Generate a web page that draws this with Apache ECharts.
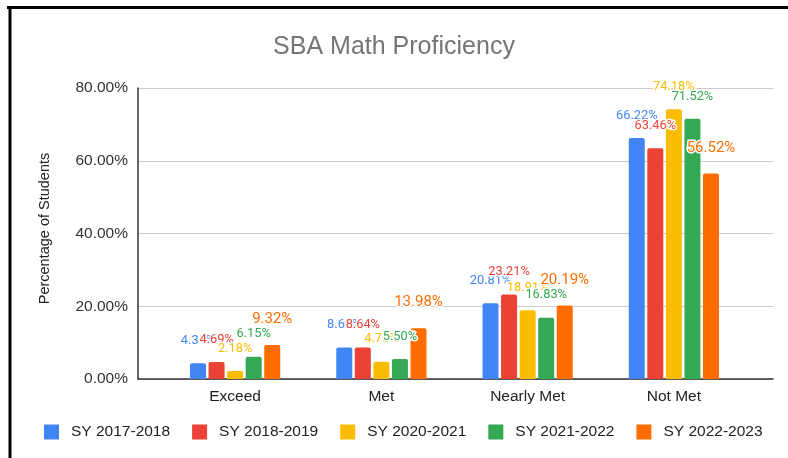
<!DOCTYPE html>
<html lang="en">
<head>
    <meta charset="UTF-8">
    <title>SBA Math Proficiency</title>
    <script src="https://cdn.jsdelivr.net/npm/echarts@6/dist/echarts.min.js"></script>
    <style>
        html, body { margin: 0; padding: 0; background: #fff; }
        #main { width: 788px; height: 458px; }
    </style>
</head>
<body>
    <div id="main"></div>
    <script type="text/javascript">
        // categories and series values (percent)
        var categories = ['Exceed', 'Met', 'Nearly Met', 'Not Met'];
        var years = ['SY 2017-2018', 'SY 2018-2019', 'SY 2020-2021', 'SY 2021-2022', 'SY 2022-2023'];
        var sy1718 = [4.34, 8.68, 20.81, 66.22];
        var sy1819 = [4.69, 8.64, 23.21, 63.46];
        var sy2021 = [2.18, 4.75, 18.91, 74.18];
        var sy2122 = [6.15, 5.50, 16.83, 71.52];
        var sy2223 = [9.32, 13.98, 20.19, 56.52];
        var yTicks = [0, 20, 40, 60, 80];

        var colors = ['#4285F4', '#EA4335', '#FBBC04', '#34A853', '#FF6D01'];
        var values = [sy1718, sy1819, sy2021, sy2122, sy2223];

        var myChart = echarts.init(document.getElementById('main'));

        var series = [];
        for (var i = 0; i < years.length; i++) {
            var last = (i === years.length - 1);
            series.push({
                name: years[i],
                type: 'bar',
                xAxisIndex: 1,
                yAxisIndex: 1,
                barWidth: 16,
                barGap: '16%',
                data: values[i],
                itemStyle: { color: colors[i], borderRadius: [2, 2, 0, 0] },
                label: {
                    show: true,
                    position: 'top',
                    distance: last ? 18 : 16,
                    color: colors[i],
                    fontFamily: 'Roboto',
                    fontSize: last ? 15 : 12.8,
                    textBorderColor: '#fff',
                    textBorderWidth: 3,
                    formatter: function (p) { return p.value.toFixed(2) + '%'; }
                }
            });
        }

        var option = {
            backgroundColor: '#fff',
            animation: false,
            color: colors,
            title: {
                text: 'SBA Math Proficiency',
                left: 'center',
                top: 35,
                padding: 0,
                textStyle: {
                    color: '#757575',
                    fontFamily: 'Liberation Sans',
                    fontSize: 25,
                    fontWeight: 'normal'
                }
            },
            legend: {
                data: years,
                left: 44,
                top: 424,
                padding: 0,
                itemWidth: 15,
                itemHeight: 15,
                itemGap: 22,
                icon: 'rect',
                textStyle: {
                    color: '#222',
                    fontFamily: 'Liberation Sans',
                    fontSize: 15.5,
                    padding: [0, 0, 0, 7]
                }
            },
            grid: [
                { left: 138, right: 15, top: 88, bottom: 79 },
                { left: 162, right: 41, top: 88, bottom: 79 }
            ],
            xAxis: [
                {
                    type: 'category',
                    gridIndex: 0,
                    data: [''],
                    axisLine: { show: true, lineStyle: { color: '#333', width: 1.5 } },
                    axisTick: { show: false },
                    axisLabel: { show: false }
                },
                {
                    type: 'category',
                    gridIndex: 1,
                    data: categories,
                    axisLine: { show: false },
                    axisTick: { show: false },
                    axisLabel: {
                        margin: 10,
                        color: '#222',
                        fontFamily: 'Liberation Sans',
                        fontSize: 15.5
                    }
                }
            ],
            yAxis: [
                {
                    type: 'value',
                    gridIndex: 0,
                    min: yTicks[0],
                    max: yTicks[yTicks.length - 1],
                    interval: 20,
                    name: 'Percentage of Students',
                    nameLocation: 'middle',
                    nameGap: 86,
                    nameTextStyle: {
                        color: '#222',
                        fontFamily: 'Liberation Sans',
                        fontSize: 14.5,
                        padding: [0, 0, 0, 10]
                    },
                    axisLine: { show: true, lineStyle: { color: '#333', width: 1.5 } },
                    axisTick: { show: false },
                    axisLabel: {
                        margin: 10,
                        color: '#333',
                        fontFamily: 'Liberation Sans',
                        fontSize: 15.5,
                        formatter: function (v) { return v.toFixed(2) + '%'; }
                    },
                    splitLine: { lineStyle: { color: '#cccccc', width: 1 } }
                },
                {
                    type: 'value',
                    gridIndex: 1,
                    min: yTicks[0],
                    max: yTicks[yTicks.length - 1],
                    interval: 20,
                    show: false
                }
            ],
            graphic: [
                {
                    type: 'line',
                    shape: { x1: 7, y1: 7.5, x2: 788, y2: 7.5 },
                    style: { stroke: '#000', lineWidth: 3 }
                },
                {
                    type: 'line',
                    shape: { x1: 10, y1: 6, x2: 10, y2: 458 },
                    style: { stroke: '#000', lineWidth: 3 }
                }
            ],
            series: series
        };

        myChart.setOption(option, true);
    </script>
</body>
</html>
